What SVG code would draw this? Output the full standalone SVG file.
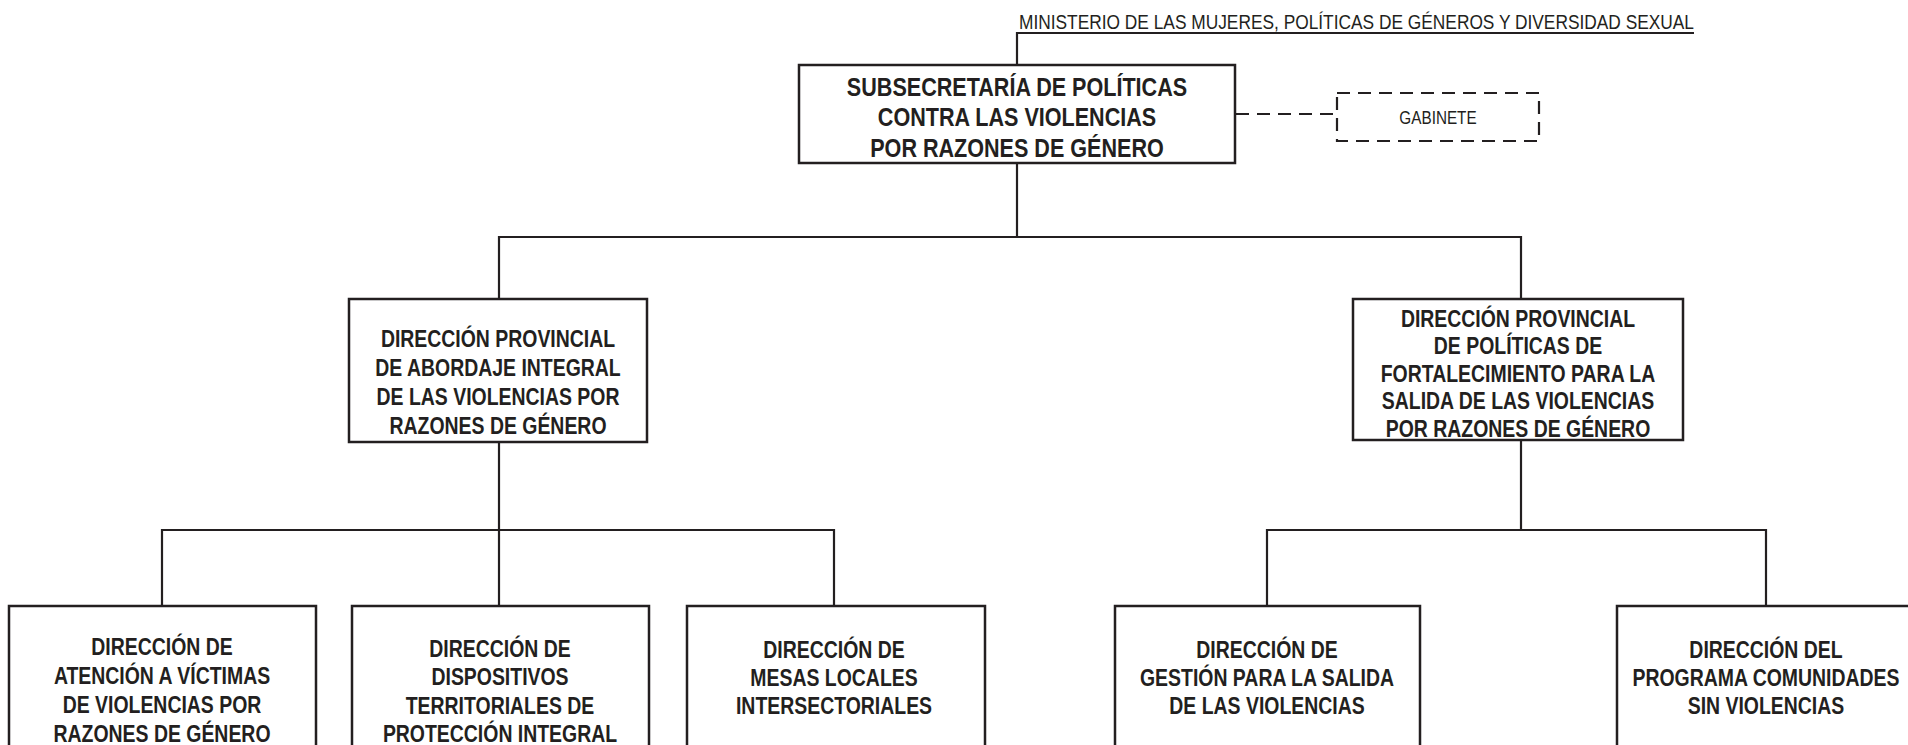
<svg xmlns="http://www.w3.org/2000/svg" width="1908" height="745" viewBox="0 0 1908 745">
<style>
.box{fill:#fff;stroke:#231f20;stroke-width:2.5}
.dbox{fill:#fff;stroke:#231f20;stroke-width:2.2;stroke-dasharray:13 8}
.ln{fill:none;stroke:#231f20;stroke-width:2.2}
.dl{fill:none;stroke:#231f20;stroke-width:2.2;stroke-dasharray:13 8}
.t{font-family:"Liberation Sans",Arial,sans-serif;font-weight:bold;font-size:24px;fill:#231f20;text-anchor:middle}
.tt{font-family:"Liberation Sans",Arial,sans-serif;font-weight:bold;font-size:26px;fill:#231f20;text-anchor:middle}
.r{font-family:"Liberation Sans",Arial,sans-serif;font-size:20px;fill:#231f20}
</style>
<rect width="1908" height="745" fill="#fff"/>
<g id="connectors">
<path class="ln" d="M1017 64 V33 H1694"/>
<path class="ln" d="M1017 163 V237"/>
<path class="ln" d="M499 298 V237 H1521 V298"/>
<path class="ln" d="M499 442 V530"/>
<path class="ln" d="M162 606 V530 H834 V606"/>
<path class="ln" d="M499 530 V606"/>
<path class="ln" d="M1521 440 V530"/>
<path class="ln" d="M1267 606 V530 H1766 V606"/>
<path class="dl" d="M1236 114 H1337"/>
</g>
<g id="ministerio">
<text class="r" x="1019" y="29" textLength="675" lengthAdjust="spacingAndGlyphs">MINISTERIO DE LAS MUJERES, POLÍTICAS DE GÉNEROS Y DIVERSIDAD SEXUAL</text>
</g>
<g id="subsecretaria">
<rect class="box" x="799" y="65" width="436" height="98"/>
<text class="tt" transform="translate(1017 0) scale(0.83 1)"><tspan x="0" y="96">SUBSECRETARÍA DE POLÍTICAS</tspan><tspan x="0" y="126.5">CONTRA LAS VIOLENCIAS</tspan><tspan x="0" y="157">POR RAZONES DE GÉNERO</tspan></text>
</g>
<g id="gabinete">
<rect class="dbox" x="1337" y="93" width="202" height="48"/>
<text class="r" transform="translate(1438 0) scale(0.85 1)" x="0" y="124" text-anchor="middle" style="font-size:18px">GABINETE</text>
</g>
<g id="dp-abordaje">
<rect class="box" x="349" y="299" width="298" height="143"/>
<text class="t" transform="translate(498 0) scale(0.81 1)"><tspan x="0" y="347">DIRECCIÓN PROVINCIAL</tspan><tspan x="0" y="376">DE ABORDAJE INTEGRAL</tspan><tspan x="0" y="405">DE LAS VIOLENCIAS POR</tspan><tspan x="0" y="434">RAZONES DE GÉNERO</tspan></text>
</g>
<g id="dp-fortalecimiento">
<rect class="box" x="1353" y="299" width="330" height="141"/>
<text class="t" transform="translate(1518 0) scale(0.81 1)"><tspan x="0" y="327">DIRECCIÓN PROVINCIAL</tspan><tspan x="0" y="354.5">DE POLÍTICAS DE</tspan><tspan x="0" y="382">FORTALECIMIENTO PARA LA</tspan><tspan x="0" y="409.5">SALIDA DE LAS VIOLENCIAS</tspan><tspan x="0" y="437">POR RAZONES DE GÉNERO</tspan></text>
</g>
<g id="d-atencion">
<rect class="box" x="9" y="606" width="307" height="160"/>
<text class="t" transform="translate(162 0) scale(0.81 1)"><tspan x="0" y="655">DIRECCIÓN DE</tspan><tspan x="0" y="684">ATENCIÓN A VÍCTIMAS</tspan><tspan x="0" y="713">DE VIOLENCIAS POR</tspan><tspan x="0" y="742">RAZONES DE GÉNERO</tspan></text>
</g>
<g id="d-dispositivos">
<rect class="box" x="352" y="606" width="297" height="160"/>
<text class="t" transform="translate(500 0) scale(0.81 1)"><tspan x="0" y="657">DIRECCIÓN DE</tspan><tspan x="0" y="685.5">DISPOSITIVOS</tspan><tspan x="0" y="714">TERRITORIALES DE</tspan><tspan x="0" y="742">PROTECCIÓN INTEGRAL</tspan></text>
</g>
<g id="d-mesas">
<rect class="box" x="687" y="606" width="298" height="160"/>
<text class="t" transform="translate(834 0) scale(0.81 1)"><tspan x="0" y="658">DIRECCIÓN DE</tspan><tspan x="0" y="686">MESAS LOCALES</tspan><tspan x="0" y="714">INTERSECTORIALES</tspan></text>
</g>
<g id="d-gestion">
<rect class="box" x="1115" y="606" width="305" height="160"/>
<text class="t" transform="translate(1267 0) scale(0.81 1)"><tspan x="0" y="658">DIRECCIÓN DE</tspan><tspan x="0" y="686">GESTIÓN PARA LA SALIDA</tspan><tspan x="0" y="714">DE LAS VIOLENCIAS</tspan></text>
</g>
<g id="d-comunidades">
<rect class="box" x="1617" y="606" width="300" height="160"/>
<text class="t" transform="translate(1766 0) scale(0.81 1)"><tspan x="0" y="658">DIRECCIÓN DEL</tspan><tspan x="0" y="686">PROGRAMA COMUNIDADES</tspan><tspan x="0" y="714">SIN VIOLENCIAS</tspan></text>
</g>
</svg>
